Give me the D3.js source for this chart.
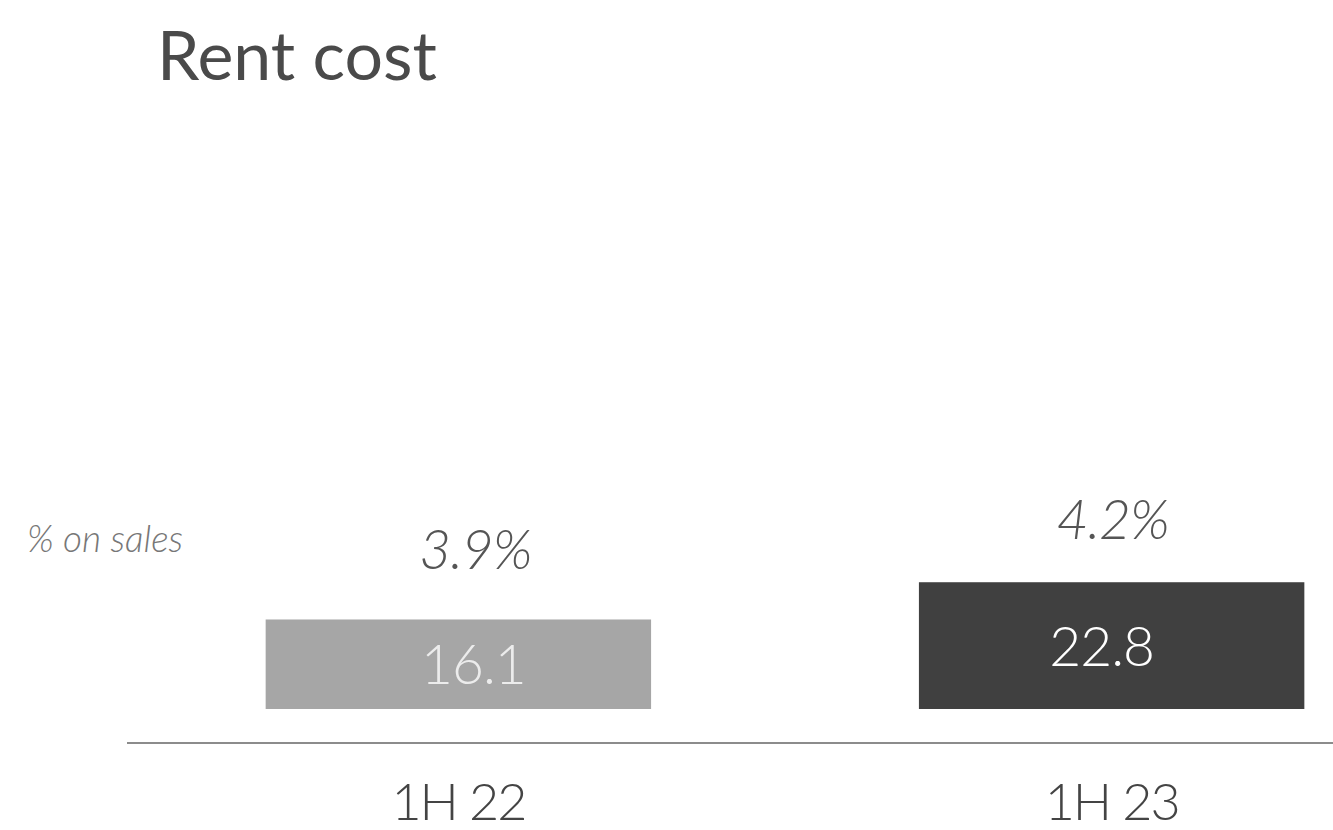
<!DOCTYPE html>
<html>
<head>
<meta charset="utf-8">
<script src="https://cdn.jsdelivr.net/npm/d3@7"></script>
<style>
  body { margin: 0; background: #fff; }
  text { font-family: Lato, "Open Sans", sans-serif; }
</style>
</head>
<body>
<svg id="chart"></svg>
<script>
var width = 1333, height = 830;

var periods = ["1H 22", "1H 23"];
var rentCost = [16.1, 22.8];
var pctOnSales = ["3.9%", "4.2%"];
var barColors = ["#a6a6a6", "#404040"];
var valueColors = ["#ececec", "#ffffff"];

var svg = d3.select("#chart")
  .attr("width", width)
  .attr("height", height);

// title
svg.append("text")
  .attr("x", 157)
  .attr("y", 80)
  .style("font-size", "68px")
  .style("font-weight", 400)
  .style("fill", "#4a4a4a")
  .text("Rent cost");

var x = d3.scaleBand()
  .domain(periods)
  .range([135, 1435])
  .paddingInner(0.41)
  .paddingOuter(0.2);

var y = d3.scaleLinear()
  .domain([0, 25])
  .range([709, 570]);

var data = periods.map(function (p, i) {
  return {period: p, value: rentCost[i], pct: pctOnSales[i], i: i};
});

// labels in the first column sit a little right of centre in the original
function nudge(d) { return d.i === 0 ? 15 : -10; }

// bars
svg.append("g")
  .selectAll("rect")
  .data(data)
  .enter()
  .append("rect")
    .attr("x", function (d) { return x(d.period); })
    .attr("y", function (d) { return y(d.value); })
    .attr("width", x.bandwidth())
    .attr("height", function (d) { return y(0) - y(d.value); })
    .style("fill", function (d) { return barColors[d.i]; });

// values inside bars
svg.append("g")
  .selectAll("text")
  .data(data)
  .enter()
  .append("text")
    .attr("x", function (d) { return x(d.period) + x.bandwidth() / 2 + nudge(d); })
    .attr("y", function (d) { return (y(d.value) + y(0)) / 2 + 20; })
    .attr("text-anchor", "middle")
    .style("font-size", "55px")
    .style("font-weight", 300)
    .style("letter-spacing", "-1px")
    .style("fill", function (d) { return valueColors[d.i]; })
    .text(function (d) { return d.value.toFixed(1); });

// % on sales labels
svg.append("g")
  .selectAll("text")
  .data(data)
  .enter()
  .append("text")
    .attr("x", function (d) { return x(d.period) + x.bandwidth() / 2 + (d.i === 0 ? 17 : 1); })
    .attr("y", function (d) { return y(d.value) - (d.i === 0 ? 50 : 43); })
    .attr("text-anchor", "middle")
    .style("font-size", "55px")
    .style("font-style", "italic")
    .style("font-weight", 300)
    .style("letter-spacing", "-1px")
    .style("fill", "#555")
    .text(function (d) { return d.pct; });

svg.append("text")
  .attr("x", 27)
  .attr("y", 552)
  .style("font-size", "37px")
  .style("font-style", "italic")
  .style("font-weight", 300)
  .style("fill", "#777")
  .text("% on sales");

// baseline + category labels
var xAxis = svg.append("g")
  .attr("transform", "translate(0,743)")
  .call(d3.axisBottom(x).tickSize(0).tickPadding(40));

xAxis.select(".domain")
  .attr("d", "M127,0H1333")
  .style("stroke", "#8c8c8c")
  .style("stroke-width", 2);

xAxis.selectAll(".tick text")
  .style("font-family", "Lato, sans-serif")
  .style("font-size", "52px")
  .style("font-weight", 300)
  .style("letter-spacing", "-2px")
  .style("fill", "#444");
</script>
</body>
</html>
